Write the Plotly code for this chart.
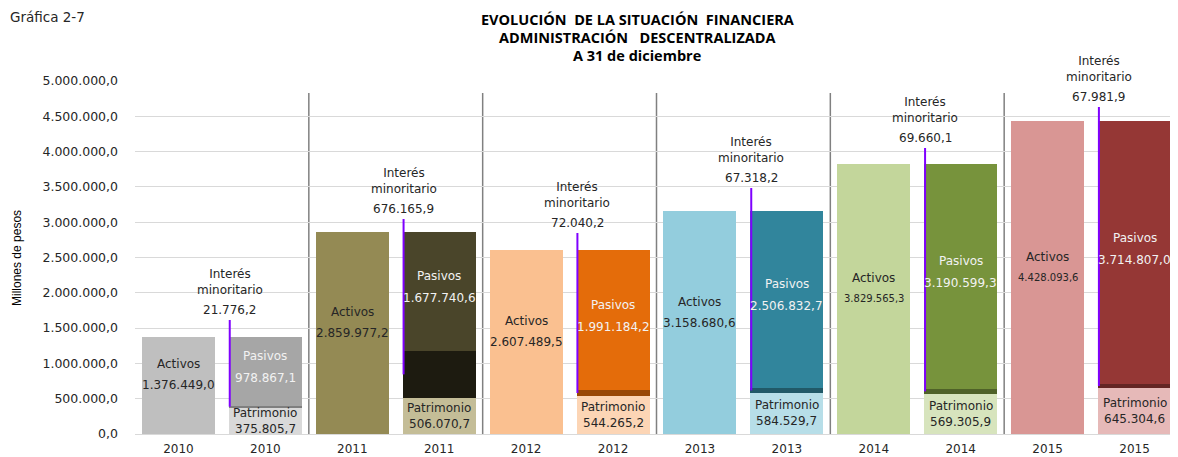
import plotly.graph_objects as go

years = ["2010", "2011", "2012", "2013", "2014", "2015"]
activos = [1376449.0, 2859977.2, 2607489.5, 3158680.6, 3829565.3, 4428093.6]
patrimonio = [375805.7, 506070.7, 544265.2, 584529.7, 569305.9, 645304.6]
interes = [21776.2, 676165.9, 72040.2, 67318.2, 69660.1, 67981.9]
pasivos = [978867.1, 1677740.6, 1991184.2, 2506832.7, 3190599.3, 3714807.0]

# styles
col_activos = ["#BFBFBF", "#948A54", "#FAC090", "#93CDDD", "#C3D69B", "#D99694"]
col_pasivos = ["#A6A6A6", "#4A452A", "#E46C0A", "#31859C", "#77933C", "#953735"]
col_interes = ["#7F7F7F", "#1D1B10", "#984807", "#215968", "#4F6228", "#632523"]
col_patrim = ["#D9D9D9", "#C4BD97", "#FCD5B5", "#B7DEE8", "#D7E4BD", "#E6B9B8"]
# label placement (value-axis position of the top of each leader line)
interes_label_top = [1615000, 3045000, 2847000, 3484000, 4051000, 4632000]
activos_value_size = [12, 12, 12, 12, 10, 10]

BW = 0.84
TXT = "#262626"
FONT = "DejaVu Sans"
LS = 12


def fmt(v):
    s = f"{v:,.1f}"
    return s.replace(",", "X").replace(".", ",").replace("X", ".")


xa = [2 * i for i in range(len(years))]
xb = [2 * i + 1 for i in range(len(years))]

fig = go.Figure()
fig.add_trace(go.Bar(x=xa, y=activos, width=BW, marker=dict(color=col_activos, line_width=0),
                     name="Activos", hoverinfo="y"))
fig.add_trace(go.Bar(x=xb, y=patrimonio, width=BW, marker=dict(color=col_patrim, line_width=0),
                     name="Patrimonio", hoverinfo="y"))
fig.add_trace(go.Bar(x=xb, y=interes, width=BW, marker=dict(color=col_interes, line_width=0),
                     name="Interés minoritario", hoverinfo="y"))
fig.add_trace(go.Bar(x=xb, y=pasivos, width=BW, marker=dict(color=col_pasivos, line_width=0),
                     name="Pasivos", hoverinfo="y"))

ann = []
shapes = []
for i in range(len(years)):
    # Activos labels
    mid = activos[i] / 2
    ann.append(dict(x=xa[i], y=mid, text="Activos", showarrow=False, yshift=21,
                    font=dict(family=FONT, size=LS, color=TXT)))
    ann.append(dict(x=xa[i], y=mid, text=fmt(activos[i]), showarrow=False, yshift=0,
                    font=dict(family=FONT, size=activos_value_size[i], color=TXT)))
    # Pasivos labels
    pm = patrimonio[i] + interes[i] + pasivos[i] / 2
    ann.append(dict(x=xb[i], y=pm, text="Pasivos", showarrow=False, yshift=15,
                    font=dict(family=FONT, size=LS, color="#F2F2F2")))
    ann.append(dict(x=xb[i], y=pm, text=fmt(pasivos[i]), showarrow=False, yshift=-7,
                    font=dict(family=FONT, size=LS, color="#F2F2F2")))
    # Patrimonio labels
    ptm = patrimonio[i] / 2
    ann.append(dict(x=xb[i], y=ptm, text="Patrimonio", showarrow=False, yshift=8,
                    font=dict(family=FONT, size=LS, color=TXT)))
    ann.append(dict(x=xb[i], y=ptm, text=fmt(patrimonio[i]), showarrow=False, yshift=-8,
                    font=dict(family=FONT, size=LS, color=TXT)))
    # Interés minoritario callout
    lx = xb[i] - BW / 2 + 0.01
    top = interes_label_top[i]
    shapes.append(dict(type="line", x0=lx, x1=lx, y0=patrimonio[i] + interes[i] / 2, y1=top,
                       xref="x", yref="y", line=dict(color="#7F00FF", width=2)))
    ann.append(dict(x=lx, y=top, text=fmt(interes[i]), showarrow=False, yanchor="bottom", yshift=1,
                    font=dict(family=FONT, size=LS, color=TXT)))
    ann.append(dict(x=lx, y=top, text="Interés<br>minoritario", showarrow=False, yanchor="bottom",
                    yshift=21, font=dict(family=FONT, size=LS, color=TXT)))

# separators between years
for k in range(1, len(years)):
    sx = 2 * k - 0.5
    shapes.append(dict(type="line", x0=sx, x1=sx, y0=0, y1=4830000, xref="x", yref="y",
                       line=dict(color="#808080", width=1.5), layer="below"))

# titles
title_lines = ["EVOLUCIÓN&nbsp; DE LA SITUACIÓN&nbsp; FINANCIERA",
               "ADMINISTRACIÓN&nbsp;&nbsp; DESCENTRALIZADA",
               "A 31 de diciembre"]
title_py = [20, 38, 56]
for t, py in zip(title_lines, title_py):
    ann.append(dict(xref="paper", yref="paper", x=(637 - 135) / 1043, y=(434 - py) / 353,
                    xanchor="center", yanchor="middle",
                    text="<b>" + t + "</b>", showarrow=False,
                    font=dict(family="Open Sans", size=14.5, color="#000000")))
ann.append(dict(xref="paper", yref="paper", x=(8 - 135) / 1043, y=(434 - 17) / 353,
                xanchor="left", yanchor="middle",
                text="Gráfica 2-7", showarrow=False, font=dict(family=FONT, size=13.5, color=TXT)))
ann.append(dict(xref="paper", yref="paper", x=(17 - 135) / 1043, y=(434 - 258) / 353,
                xanchor="center", yanchor="middle",
                text="Millones de pesos", textangle=-90, showarrow=False,
                font=dict(family="Liberation Sans", size=12, color="#000000")))

# page body has an 8px margin: plot area spans page x 135..1178, y 81..434
fig.update_layout(
    width=1170, height=449,
    margin=dict(l=127, r=0, t=73, b=23),
    barmode="stack",
    showlegend=False,
    plot_bgcolor="white", paper_bgcolor="white",
    separators=",.",
    annotations=ann,
    shapes=shapes,
    xaxis=dict(range=[-0.5, 11.5], tickvals=xa + xb, ticktext=years + years,
               showgrid=False, zeroline=False, showline=False, ticks="",
               ticklabelstandoff=6,
               tickfont=dict(family=FONT, size=12, color=TXT)),
    yaxis=dict(range=[0, 5000000], dtick=500000, tickformat=",.1f",
               showgrid=True, gridcolor="#D9D9D9", gridwidth=1,
               zeroline=True, zerolinecolor="#D9D9D9", zerolinewidth=1,
               showline=False, ticks="", ticklabelstandoff=16,
               tickfont=dict(family=FONT, size=12.5, color=TXT)),
)

fig.write_html("out.html")
